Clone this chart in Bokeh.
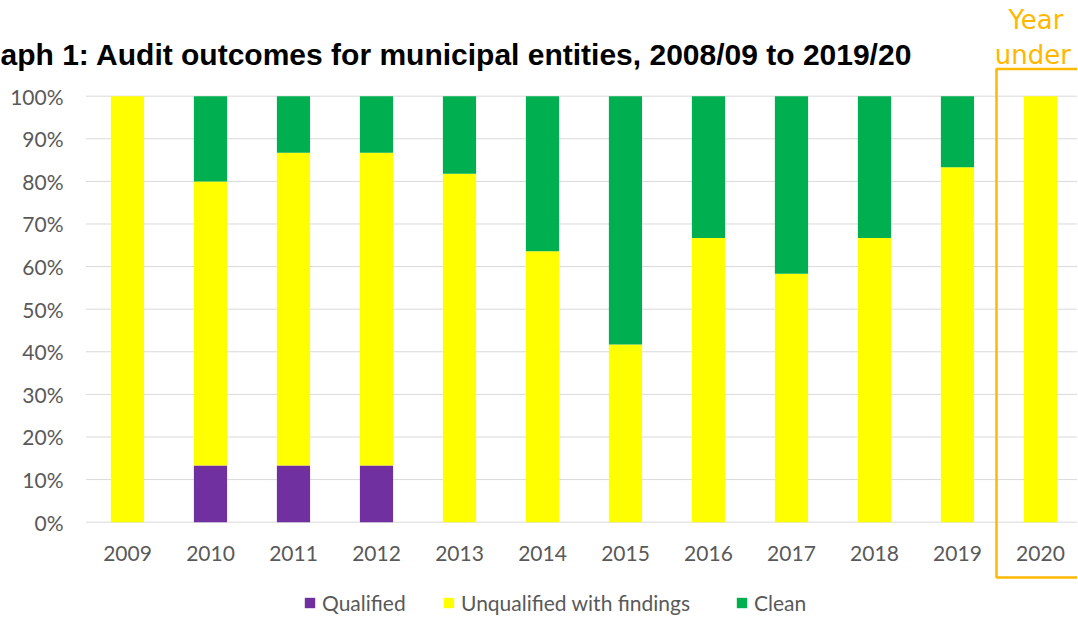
from bokeh.plotting import figure
from bokeh.models import (Range1d, Legend, LegendItem, ColumnDataSource, Label, BoxAnnotation)
from bokeh.core.properties import value
from bokeh.embed import file_html
from bokeh.resources import INLINE

# ---- data ----
years = ["2009", "2010", "2011", "2012", "2013", "2014", "2015", "2016", "2017", "2018", "2019", "2020"]
qualified = [0, 13.3, 13.3, 13.3, 0, 0, 0, 0, 0, 0, 0, 0]
unqualified = [100, 66.7, 73.4, 73.4, 81.8, 63.6, 41.7, 66.7, 58.3, 66.7, 83.3, 100]
clean = [0, 20.0, 13.3, 13.3, 18.2, 36.4, 58.3, 33.3, 41.7, 33.3, 16.7, 0]
series = ["Qualified", "Unqualified with findings", "Clean"]
colors = ["#7030A0", "#FFFF00", "#00B050"]
y_ticks = [0, 10, 20, 30, 40, 50, 60, 70, 80, 90, 100]
y_tick_labels = [f"{t}%" for t in y_ticks]
title_text = "aph 1: Audit outcomes for municipal entities, 2008/09 to 2019/20"
note_lines = ["Year", "under"]

TICK_FONT = "Lato"
TICK_COLOR = "#595959"
GOLD = "#FFB800"
GRID = "#D9D9D9"

X0, X1 = -1.530, 11.446
Y0, Y1 = -22.14, 122.46
DY = 1.76  # baseline correction for alphabetic text

xs = list(range(len(years)))
src = ColumnDataSource(dict(x=xs, year=years, q=qualified, u=unqualified, c=clean))
tick_src = ColumnDataSource(dict(y=y_ticks, label=y_tick_labels,
                                 x0=[-0.5] * len(y_ticks), x1=[X1 + 1] * len(y_ticks)))

p = figure(width=1077, height=616, output_backend="svg", toolbar_location=None,
           x_range=Range1d(X0, X1), y_range=Range1d(Y0, Y1),
           x_axis_type=None, y_axis_type=None,
           min_border_left=0, min_border_right=0, min_border_top=0, min_border_bottom=0)
p.outline_line_color = None
p.grid.visible = False

# value gridlines
p.segment(x0="x0", y0="y", x1="x1", y1="y", source=tick_src, line_color=GRID, line_width=1)

# stacked bars
renderers = p.vbar_stack(["q", "u", "c"], x="x", width=0.4, source=src,
                         color=colors, line_color=None)

# value-axis labels
p.text(x=-0.771, y="y", text="label", source=tick_src, text_align="right",
       text_baseline="middle", text_font=value(TICK_FONT), text_font_size="21px",
       text_color=TICK_COLOR)

# category labels
p.text(x="x", y=-9.15 + DY, text="year", source=src, text_align="center",
       text_baseline="alphabetic", text_font=value(TICK_FONT),
       text_font_size="21px", text_color=TICK_COLOR)

# highlight box around the year under review
p.add_layout(BoxAnnotation(left=10.47, right=12.5, top=106.4, bottom=-13.0,
                           fill_alpha=0, line_color=GOLD, line_alpha=1.0, line_width=2.5))

# title
p.add_layout(Label(x=-1.53, y=108.1 + DY, text=title_text, text_font="Liberation Sans",
                   text_font_style="bold", text_font_size="30px", text_color="#000000",
                   text_baseline="alphabetic", text_align="left"))
# note
p.add_layout(Label(x=10.945, y=116.06 + DY, text=note_lines[0], text_font="DejaVu Sans",
                   text_font_size="26px", text_color=GOLD, text_align="center",
                   text_baseline="alphabetic"))
p.add_layout(Label(x=10.908, y=107.9 + DY, text=note_lines[1], text_font="DejaVu Sans",
                   text_font_size="26px", text_color=GOLD, text_align="center",
                   text_baseline="alphabetic"))

# legends: one per item to reproduce positions
leg_x = [303, 442, 735]
for r, name, lx in zip(renderers, series, leg_x):
    lg = Legend(items=[LegendItem(label=name, renderers=[r])], location=(lx, 1),
                orientation="horizontal", glyph_width=13, glyph_height=13,
                label_standoff=6, padding=0, margin=0, spacing=0,
                border_line_color=None, background_fill_alpha=0,
                label_text_font=TICK_FONT, label_text_font_size="21px",
                label_text_color=TICK_COLOR, label_height=13)
    p.add_layout(lg)

open("out.html", "w").write(file_html(p, INLINE))
